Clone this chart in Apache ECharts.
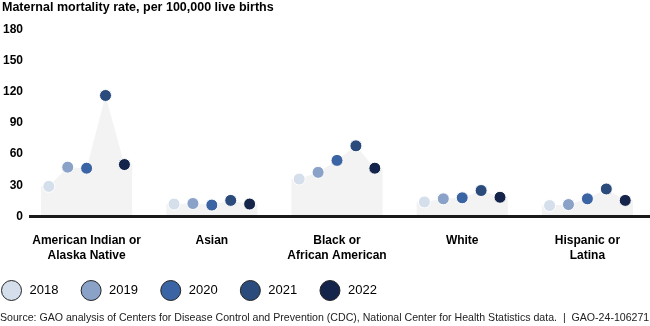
<!DOCTYPE html>
<html>
<head>
<meta charset="utf-8">
<script src="https://cdn.jsdelivr.net/npm/echarts@6/dist/echarts.min.js"></script>
<style>html,body{margin:0;padding:0;background:#fff}#c{width:650px;height:326px}</style>
</head>
<body>
<div id="c"></div>
<script>
// ---- data ----
var categories = ['American Indian or\nAlaska Native', 'Asian', 'Black or\nAfrican American', 'White', 'Hispanic or\nLatina'];
var years = ['2018', '2019', '2020', '2021', '2022'];
var v2018 = [29, 12, 36, 14, 10.5];
var v2019 = [47.5, 12.5, 42.5, 17, 11.5];
var v2020 = [46.5, 11, 54, 18, 17];
var v2021 = [116.5, 15.5, 68, 25, 26.5];
var v2022 = [50, 12, 46.5, 18.5, 15.5];
var yTicks = [0, 30, 60, 90, 120, 150, 180];
var titleText = 'Maternal mortality rate, per 100,000 live births';
var sourceText = 'Source: GAO analysis of Centers for Disease Control and Prevention (CDC), National Center for Health Statistics data.  |  GAO-24-106271';

var yearValues = [v2018, v2019, v2020, v2021, v2022];
var colors = ['#d5dfec', '#8aa2c8', '#3a64a3', '#2a4b7c', '#15244a'];
var step = 0.151, edge = 0.364;

var series = [];
// baseline along y = 0
series.push({
  type: 'line', xAxisIndex: 1, symbol: 'none', silent: true, clip: false, z: 3,
  lineStyle: { color: '#1a1a1a', width: 3 },
  data: [[-0.46, yTicks[0]], [4.6, yTicks[0]]]
});
// background areas per group
categories.forEach(function (c, g) {
  var d = [[g - edge, yearValues[0][g]]];
  yearValues.forEach(function (vals, i) { d.push([g + (i - 2) * step, vals[g]]); });
  d.push([g + edge, yearValues[4][g]]);
  series.push({
    type: 'line', xAxisIndex: 1, data: d, symbol: 'none', silent: true,
    lineStyle: { width: 0, color: '#f3f3f3' }, itemStyle: { color: '#f3f3f3' },
    areaStyle: { color: '#f3f3f3', opacity: 1 }, z: 1
  });
});
years.forEach(function (y, i) {
  series.push({
    type: 'scatter', name: y, xAxisIndex: 1, symbolSize: 12, z: 5,
    itemStyle: { color: colors[i], borderColor: '#ffffff', borderWidth: 1, opacity: 1 },
    data: yearValues[i].map(function (v, g) { return [g + (i - 2) * step, v]; })
  });
});

var chart = echarts.init(document.getElementById('c'), null, { renderer: 'canvas' });
chart.setOption({
  animation: false,
  color: colors,
  title: [
    { text: titleText, left: 2, top: 1, padding: 0, textStyle: { fontFamily: 'Liberation Sans', fontSize: 12.5, fontWeight: 'bold', color: '#000', lineHeight: 14 } },
    { text: sourceText, left: 0, top: 311, padding: 0, textStyle: { fontFamily: 'Liberation Sans', fontSize: 10.6, fontWeight: 'normal', color: '#222', lineHeight: 14 } }
  ],
  legend: {
    data: years, left: 1, top: 280, padding: 0, icon: 'circle', itemWidth: 20, itemHeight: 22, itemGap: 22.2,
    itemStyle: { borderColor: '#222', borderWidth: 1 },
    textStyle: { fontFamily: 'Liberation Sans', fontSize: 13, color: '#000', padding: [0, 0, 0, 3] }
  },
  grid: { left: 23, right: -5, top: 29.5, bottom: 109.5, containLabel: false },
  xAxis: [
    {
      type: 'category', data: categories, boundaryGap: true,
      axisLine: { show: false }, axisTick: { show: false }, splitLine: { show: false },
      axisLabel: { interval: 0, margin: 16.5, fontFamily: 'Liberation Sans', fontSize: 12, fontWeight: 'bold', color: '#000', lineHeight: 15, align: 'center' }
    },
    { type: 'value', min: -0.5, max: 4.5, show: false }
  ],
  yAxis: {
    type: 'value', min: yTicks[0], max: yTicks[yTicks.length - 1], interval: 30,
    axisLine: { show: false }, axisTick: { show: false }, splitLine: { show: false },
    axisLabel: { margin: 1, fontFamily: 'Liberation Sans', fontSize: 12, fontWeight: 'bold', color: '#000' }
  },
  series: series
});
</script>
</body>
</html>
